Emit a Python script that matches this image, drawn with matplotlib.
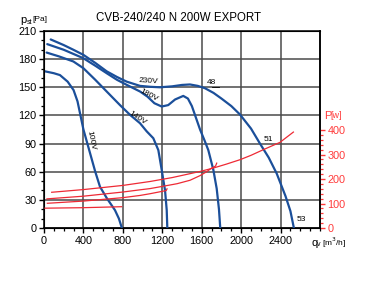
"""CVB-240/240 N 200W EXPORT fan curves."""
import matplotlib
matplotlib.use("Agg")
import matplotlib.pyplot as plt
from matplotlib.ticker import FixedLocator, MultipleLocator
import numpy as np

plt.rcParams['font.family'] = ['Liberation Sans', 'DejaVu Sans']

# Pressure curves, q [m3/h] vs p_st [Pa]
q_230 = [68, 200, 298, 399, 520, 636, 740, 839, 974, 1080, 1177, 1300, 1400, 1481,
         1560, 1633, 1720, 1800, 1900, 1988, 2100, 2191, 2280, 2361, 2450, 2500, 2535]
p_230 = [201, 195, 190, 184.6, 176, 167, 161, 156, 151.5, 150.5, 150, 151, 152.5, 153,
         151.5, 149, 144, 138, 130, 121, 106, 90, 75, 58, 34, 18, 0]

q_180 = [33, 200, 399, 520, 636, 740, 839, 974, 1050, 1120, 1194, 1260, 1330, 1413,
         1460, 1500, 1540, 1583, 1630, 1667, 1718, 1752, 1775, 1788]
p_180 = [196, 190, 181, 173, 165, 158, 152.6, 145.5, 140, 133, 129.5, 131, 137, 140.8,
         138, 130, 118, 105, 93, 83, 62, 42, 20, 0]

q_140 = [27, 150, 298, 399, 520, 636, 771, 873, 974, 1042, 1109, 1160, 1194, 1228,
         1245, 1251]
p_140 = [187, 183, 177.5, 170.4, 158, 145.5, 131, 120.6, 111.7, 103, 95.7, 83, 62, 40,
         19, 0]

q_100 = [10, 100, 162, 240, 300, 340, 370, 400, 440, 480, 520, 568, 636, 720, 760, 790]
p_100 = [167, 165, 163, 156, 147, 135, 120, 105, 90, 75, 60, 44, 32, 19, 10, 0]

# Power curves, q [m3/h] vs P [W]
pq_230 = [78, 400, 800, 1075, 1300, 1481, 1583, 1718, 1850, 1988, 2100, 2225, 2394, 2530]
pw_230 = [146, 157, 174, 190, 206, 222, 231, 245, 261, 279, 297, 320, 350, 392]

pq_180 = [30, 400, 800, 974, 1075, 1228, 1350, 1481, 1583, 1650, 1701, 1740, 1752]
pw_180 = [119, 130, 147, 156, 161, 172, 181, 195, 214, 230, 245, 253, 265]

pq_140 = [34, 400, 800, 974, 1075, 1240, 1248]
pw_140 = [101, 110, 124, 133, 140, 153, 160]

pq_100 = [10, 400, 788]
pw_100 = [81, 83, 87]

x_ticks = [0, 400, 800, 1200, 1600, 2000, 2400]
y_ticks = [0, 30, 60, 90, 120, 150, 180, 210]
p_ticks = [0, 100, 200, 300, 400]

blue = '#1b4f9a'
red = '#ee2a35'
red_txt = '#ff3b3b'

fig = plt.figure(figsize=(3.89, 2.86), dpi=100, facecolor='w')
ax = fig.add_axes([44 / 389, 58 / 286, 276 / 389, 197 / 286])

ax.set_xlim(0, 2800)
ax.set_ylim(0, 210)
ax.set_xticks(x_ticks)
ax.set_yticks(y_ticks)
ax.xaxis.set_minor_locator(MultipleLocator(100))
ax.yaxis.set_minor_locator(MultipleLocator(10))
ax.grid(True, which='major', color='#4a4a4a', lw=1.1)
ax.set_axisbelow(True)
ax.tick_params(which='major', direction='out', length=3.5, width=1, labelsize=7.8,
               pad=2)
ax.tick_params(which='minor', direction='out', length=2, width=0.9)
for s in ax.spines.values():
    s.set_linewidth(1.1)

for q, p in [(q_230, p_230), (q_180, p_180), (q_140, p_140), (q_100, p_100)]:
    ax.plot(q, p, color=blue, lw=1.6, solid_capstyle='round', zorder=4)

ax2 = ax.twinx()
ax2.set_ylim(0, 805)
ax2.set_yticks(p_ticks)
ax2.yaxis.set_minor_locator(FixedLocator([v for v in range(0, 401, 20)
                                          if v % 100]))
ax2.tick_params(which='major', direction='out', length=3.5, width=1,
                colors=red_txt, labelsize=7.8, pad=2)
ax2.tick_params(which='minor', direction='out', length=2, width=0.9,
                colors=red_txt)
ax2.spines['right'].set_color('black')
ax2.spines['right'].set_linewidth(1.1)
for q, p in [(pq_230, pw_230), (pq_180, pw_180), (pq_140, pw_140), (pq_100, pw_100)]:
    ax2.plot(q, p, color=red, lw=0.9, zorder=3)

# curve labels
lab = dict(fontsize=6, color='black', ha='center', va='center', zorder=6)
ax.text(1065, 157, '230V', rotation=-4, **lab)
ax.text(1060, 141, '180V', rotation=-28, **lab)
ax.text(949, 117, '140V', rotation=-33, **lab)
ax.text(480, 93, '100V', rotation=-78, **lab)
ax.text(1700, 155, '48', **lab)
ax.plot([1700, 1780], [150.5, 150.5], color='black', lw=0.6, zorder=6)
ax.text(2272, 94, '51', **lab)
ax.text(2612, 9, '53', **lab)

fig.text(179 / 389, 1 - 18 / 286, 'CVB-240/240 N 200W EXPORT', ha='center',
         va='center', fontsize=8.3)

# axis captions
fig.text(20.5 / 389, 1 - 20 / 286, 'p', fontsize=8, va='center', ha='left')
fig.text(26.5 / 389, 1 - 22 / 286, 'st', fontsize=5, va='center', ha='left')
fig.text(32.5 / 389, 1 - 19.5 / 286, '[Pa]', fontsize=6, va='center', ha='left')

fig.text(311 / 389, 1 - 243 / 286, 'q', fontsize=8, va='center', ha='left')
fig.text(317 / 389, 1 - 245 / 286, 'v', fontsize=5, va='center', ha='left')
fig.text(321.5 / 389, 1 - 243 / 286, '[m$^3$/h]', fontsize=6, va='center', ha='left')

fig.text(324 / 389, 1 - 116 / 286, 'P', fontsize=8, va='center', ha='left',
         color=red_txt)
fig.text(330 / 389, 1 - 116 / 286, '[w]', fontsize=6.5, va='center', ha='left',
         color=red_txt)

plt.savefig("out.png", dpi=100)
